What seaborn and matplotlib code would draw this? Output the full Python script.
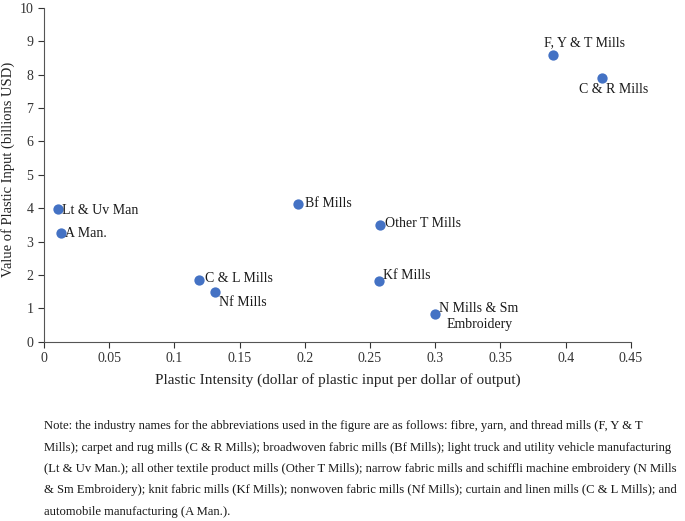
import matplotlib
matplotlib.use("Agg")
import matplotlib.pyplot as plt
import seaborn as sns
import pandas as pd

names = ["F, Y & T Mills", "C & R Mills", "Bf Mills", "Lt & Uv Man", "A Man.",
         "Other T Mills", "C & L Mills", "Nf Mills", "Kf Mills", "N Mills & Sm\nEmbroidery"]
intensity = [0.390, 0.428, 0.195, 0.011, 0.013, 0.258, 0.119, 0.131, 0.257, 0.300]
value = [8.58, 7.90, 4.14, 3.97, 3.27, 3.51, 1.86, 1.49, 1.81, 0.83]
x_ticks = [0, 0.05, 0.1, 0.15, 0.2, 0.25, 0.3, 0.35, 0.4, 0.45]
x_tick_labels = ["0", "0.05", "0.1", "0.15", "0.2", "0.25", "0.3", "0.35", "0.4", "0.45"]
y_ticks = list(range(0, 11))

# label offsets in points and alignment (styling, not data)
label_style = {
    "F, Y & T Mills": ((-6.5, 9), "left", "center"),
    "C & R Mills": ((8, -8.6), "center", "center"),
    "Bf Mills": ((5, 0), "left", "center"),
    "Lt & Uv Man": ((3, -1), "left", "center"),
    "A Man.": ((3, -1), "left", "center"),
    "Other T Mills": ((3, 1), "left", "center"),
    "C & L Mills": ((4, 1), "left", "center"),
    "Nf Mills": ((3, -3), "left", "top"),
    "Kf Mills": ((3, 4), "left", "center"),
    "N Mills & Sm\nEmbroidery": ((3, 9), "left", "top"),
}

sns.set_theme(style="ticks")
plt.rcParams["font.family"] = ["Liberation Serif", "DejaVu Serif"]

df = pd.DataFrame({"name": names, "x": intensity, "y": value})

fig = plt.figure(figsize=(6.85, 5.21), dpi=100)
ax = fig.add_axes([0.064, 0.344, 0.857, 0.641])
sns.scatterplot(data=df, x="x", y="y", ax=ax, color="#4472C4", s=55,
                edgecolor="#4472C4", linewidth=0, zorder=3)

for n, xv, yv in zip(names, intensity, value):
    (dx, dy), ha, va = label_style[n]
    if n.startswith("N Mills"):
        ax.annotate("N Mills & Sm", (xv, yv), xytext=(dx, dy), textcoords="offset points",
                    ha="left", va="top", fontsize=10, color="#1a1a1a")
        ax.annotate("Embroidery", (xv, yv), xytext=(dx + 5, dy - 12), textcoords="offset points",
                    ha="left", va="top", fontsize=10, color="#1a1a1a")
    else:
        ax.annotate(n, (xv, yv), xytext=(dx, dy), textcoords="offset points",
                    ha=ha, va=va, fontsize=10, color="#1a1a1a")

ax.set_xlim(0, 0.45)
ax.set_ylim(0, 10)
ax.set_xticks(x_ticks)
ax.set_xticklabels(x_tick_labels)
ax.set_yticks(y_ticks)
ax.tick_params(axis="both", labelsize=10, colors="#333333", length=4, width=0.8, direction="out")
for s in ["top", "right"]:
    ax.spines[s].set_visible(False)
for s in ["left", "bottom"]:
    ax.spines[s].set_color("#555555")
    ax.spines[s].set_linewidth(0.8)
ax.set_xlabel("Plastic Intensity (dollar of plastic input per dollar of output)", fontsize=11, color="#222222", labelpad=6)
ax.set_ylabel("Value of Plastic Input (billions USD)", fontsize=10.5, color="#222222")
ax.yaxis.set_label_coords(-0.049, 0.515)

note = ("Note: the industry names for the abbreviations used in the figure are as follows: fibre, yarn, and thread mills (F, Y & T\n"
        "Mills); carpet and rug mills (C & R Mills); broadwoven fabric mills (Bf Mills); light truck and utility vehicle manufacturing\n"
        "(Lt & Uv Man.); all other textile product mills (Other T Mills); narrow fabric mills and schiffli machine embroidery (N Mills\n"
        "& Sm Embroidery); knit fabric mills (Kf Mills); nonwoven fabric mills (Nf Mills); curtain and linen mills (C & L Mills); and\n"
        "automobile manufacturing (A Man.).")
fig.text(0.064, 0.193, note, fontsize=9.1, color="#1a1a1a", ha="left", va="top", linespacing=2.03)

fig.savefig("out.png", dpi=100, facecolor="white")
